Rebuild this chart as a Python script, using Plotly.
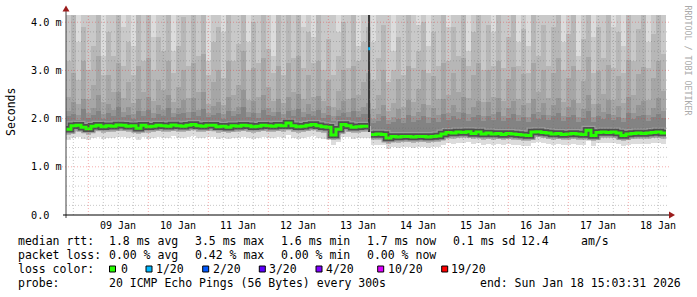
import numpy as np
import pandas as pd
import plotly.graph_objects as go

# ---------------- data ----------------
START = "2026-01-08 15:03:31"
END = "2026-01-18 15:03:31"
BIN_HOURS = 2

median_ms = [
    1.78, 1.85, 1.86, 1.82, 1.79, 1.84, 1.86, 1.83, 1.85, 1.84, 1.87, 1.86,
    1.84, 1.85, 1.80, 1.86, 1.83, 1.84, 1.86, 1.85, 1.84, 1.87, 1.85, 1.84,
    1.86, 1.88, 1.85, 1.84, 1.86, 1.86, 1.83, 1.84, 1.82, 1.85, 1.84, 1.86,
    1.85, 1.83, 1.84, 1.86, 1.85, 1.84, 1.86, 1.85, 1.91, 1.85, 1.83, 1.84,
    1.86, 1.88, 1.85, 1.83, 1.82, 1.66, 1.78, 1.88, 1.85, 1.82, 1.83, 1.84,
    1.84, 1.67, 1.68, 1.67, 1.60, 1.63, 1.62, 1.63, 1.63, 1.62, 1.63, 1.63,
    1.62, 1.63, 1.64, 1.68, 1.71, 1.70, 1.72, 1.71, 1.73, 1.69, 1.72, 1.68,
    1.70, 1.68, 1.69, 1.67, 1.69, 1.68, 1.67, 1.66, 1.65, 1.72, 1.73, 1.71,
    1.70, 1.68, 1.69, 1.67, 1.68, 1.69, 1.68, 1.67, 1.76, 1.65, 1.71, 1.72,
    1.71, 1.72, 1.70, 1.65, 1.68, 1.69, 1.70, 1.69, 1.70, 1.71, 1.72, 1.70,
]
lo_ms = [
    1.55, 1.60, 1.61, 1.57, 1.55, 1.60, 1.62, 1.58, 1.60, 1.59, 1.62, 1.61,
    1.60, 1.61, 1.55, 1.62, 1.58, 1.59, 1.62, 1.60, 1.60, 1.63, 1.60, 1.59,
    1.62, 1.63, 1.60, 1.59, 1.61, 1.62, 1.58, 1.60, 1.57, 1.60, 1.60, 1.62,
    1.60, 1.58, 1.60, 1.61, 1.60, 1.59, 1.62, 1.60, 1.65, 1.60, 1.58, 1.60,
    1.62, 1.63, 1.60, 1.58, 1.57, 1.45, 1.52, 1.62, 1.61, 1.57, 1.59, 1.60,
    1.60, 1.45, 1.46, 1.45, 1.37, 1.41, 1.40, 1.41, 1.41, 1.40, 1.41, 1.41,
    1.40, 1.41, 1.42, 1.46, 1.49, 1.48, 1.50, 1.49, 1.51, 1.47, 1.50, 1.46,
    1.48, 1.46, 1.47, 1.45, 1.47, 1.46, 1.45, 1.44, 1.43, 1.50, 1.51, 1.49,
    1.48, 1.46, 1.47, 1.45, 1.46, 1.47, 1.46, 1.45, 1.53, 1.43, 1.49, 1.50,
    1.49, 1.50, 1.48, 1.43, 1.46, 1.47, 1.48, 1.47, 1.48, 1.49, 1.50, 1.48,
]
lo_mid_ms = [
    1.67, 1.73, 1.74, 1.70, 1.67, 1.72, 1.74, 1.71, 1.73, 1.72, 1.75, 1.74,
    1.72, 1.73, 1.68, 1.74, 1.71, 1.72, 1.74, 1.73, 1.72, 1.75, 1.73, 1.72,
    1.74, 1.76, 1.73, 1.72, 1.74, 1.74, 1.71, 1.72, 1.70, 1.73, 1.72, 1.74,
    1.73, 1.71, 1.72, 1.74, 1.73, 1.72, 1.74, 1.73, 1.79, 1.73, 1.71, 1.72,
    1.74, 1.76, 1.73, 1.71, 1.70, 1.55, 1.66, 1.76, 1.73, 1.70, 1.71, 1.72,
    1.72, 1.55, 1.56, 1.55, 1.48, 1.51, 1.50, 1.51, 1.51, 1.50, 1.51, 1.51,
    1.50, 1.51, 1.52, 1.56, 1.59, 1.58, 1.60, 1.59, 1.61, 1.57, 1.60, 1.56,
    1.58, 1.56, 1.57, 1.55, 1.57, 1.56, 1.55, 1.54, 1.53, 1.60, 1.61, 1.59,
    1.58, 1.56, 1.57, 1.55, 1.56, 1.57, 1.56, 1.55, 1.64, 1.53, 1.59, 1.60,
    1.59, 1.60, 1.58, 1.53, 1.56, 1.57, 1.58, 1.57, 1.58, 1.59, 1.60, 1.58,
]
p15_ms = [
    2.05, 2.10, 1.98, 2.20, 2.02, 2.08, 2.15, 2.00, 2.12, 2.05, 2.25, 2.03,
    2.08, 2.00, 2.15, 2.05, 2.18, 2.02, 2.10, 2.06, 2.22, 2.04, 2.09, 2.12,
    2.02, 2.14, 2.06, 2.20, 2.03, 2.08, 2.11, 2.00, 2.16, 2.05, 2.09, 2.24,
    2.04, 2.12, 2.02, 2.18, 2.07, 2.05, 2.13, 2.01, 2.15, 2.06, 2.20, 2.03,
    2.10, 2.05, 2.17, 2.02, 2.08, 1.95, 2.06, 2.12, 2.03, 2.15, 2.04, 2.09,
    2.10, 1.90, 1.95, 2.05, 1.88, 1.92, 2.00, 1.90, 2.08, 1.93, 1.97, 2.05,
    1.91, 2.02, 1.94, 2.10, 1.97, 2.05, 1.99, 2.12, 1.96, 2.03, 2.08, 1.95,
    2.06, 1.98, 2.13, 1.95, 2.02, 2.09, 1.96, 2.04, 1.93, 2.10, 2.00, 2.07,
    1.97, 2.05, 2.11, 1.96, 2.03, 2.08, 1.94, 2.02, 2.15, 1.93, 2.06, 2.00,
    2.09, 1.97, 2.04, 1.92, 2.11, 1.99, 2.05, 2.08, 1.96, 2.03, 2.10, 2.01,
]
p16_ms = [
    2.15, 2.35, 2.08, 2.40, 2.12, 2.22, 2.50, 2.10, 2.30, 2.18, 2.55, 2.14,
    2.25, 2.10, 2.40, 2.16, 2.45, 2.12, 2.28, 2.18, 2.50, 2.12, 2.22, 2.38,
    2.14, 2.42, 2.18, 2.55, 2.12, 2.26, 2.34, 2.10, 2.44, 2.16, 2.24, 2.60,
    2.14, 2.36, 2.12, 2.48, 2.22, 2.14, 2.40, 2.10, 2.44, 2.18, 2.52, 2.13,
    2.30, 2.16, 2.46, 2.12, 2.26, 2.05, 2.18, 2.36, 2.13, 2.42, 2.16, 2.25,
    2.32, 2.00, 2.10, 2.28, 1.98, 2.04, 2.20, 2.02, 2.38, 2.06, 2.14, 2.30,
    2.03, 2.22, 2.08, 2.40, 2.12, 2.28, 2.14, 2.44, 2.10, 2.24, 2.36, 2.06,
    2.34, 2.10, 2.42, 2.06, 2.22, 2.36, 2.08, 2.28, 2.04, 2.40, 2.14, 2.32,
    2.08, 2.28, 2.42, 2.06, 2.24, 2.38, 2.04, 2.20, 2.50, 2.03, 2.30, 2.14,
    2.38, 2.08, 2.26, 2.02, 2.44, 2.12, 2.28, 2.36, 2.08, 2.22, 2.42, 2.16,
]
p17_ms = [
    2.45, 2.95, 2.30, 3.20, 2.40, 2.70, 3.30, 2.35, 2.90, 2.55, 3.15, 2.42,
    2.75, 2.32, 3.10, 2.55, 3.25, 2.36, 2.80, 2.60, 3.20, 2.34, 2.65, 3.00,
    2.42, 3.15, 2.55, 3.35, 2.30, 2.75, 3.00, 2.28, 3.20, 2.50, 2.70, 3.40,
    2.38, 3.05, 2.45, 3.25, 2.65, 2.36, 3.10, 2.32, 3.15, 2.55, 3.30, 2.40,
    2.90, 2.45, 3.20, 2.36, 2.80, 2.25, 2.58, 3.00, 2.40, 3.10, 2.50, 2.75,
    2.95, 2.20, 2.50, 3.00, 2.15, 2.32, 2.82, 2.25, 3.10, 2.35, 2.62, 3.00,
    2.28, 2.88, 2.40, 3.15, 2.48, 2.95, 2.55, 3.25, 2.42, 2.90, 3.15, 2.35,
    3.00, 2.44, 3.20, 2.36, 2.82, 3.08, 2.40, 2.92, 2.32, 3.15, 2.55, 3.00,
    2.42, 2.95, 3.25, 2.35, 2.85, 3.10, 2.33, 2.78, 3.28, 2.30, 2.98, 2.52,
    3.12, 2.38, 2.88, 2.32, 3.22, 2.48, 2.92, 3.08, 2.38, 2.85, 3.20, 2.58,
]
p18_ms = [
    3.20, 4.50, 2.80, 3.90, 3.00, 3.50, 4.50, 2.90, 3.80, 3.30, 4.50, 3.10,
    3.60, 2.90, 4.50, 3.20, 4.20, 3.00, 3.70, 3.40, 4.50, 2.95, 3.50, 4.10,
    3.10, 4.50, 3.30, 4.40, 2.90, 3.60, 3.90, 2.85, 4.50, 3.20, 3.55, 4.50,
    3.00, 4.00, 3.15, 4.50, 3.45, 2.95, 4.30, 2.90, 4.50, 3.25, 4.50, 3.05,
    3.80, 3.15, 4.50, 3.00, 3.65, 2.90, 3.30, 4.00, 3.05, 4.50, 3.20, 3.60,
    3.90, 2.80, 3.25, 3.95, 2.75, 3.00, 3.70, 2.90, 4.50, 3.05, 3.40, 4.00,
    2.95, 3.80, 3.10, 4.50, 3.20, 3.90, 3.30, 4.50, 3.10, 3.80, 4.50, 3.00,
    3.95, 3.10, 4.50, 3.05, 3.70, 4.50, 3.10, 3.85, 2.95, 4.50, 3.30, 3.95,
    3.10, 3.90, 4.50, 3.00, 3.75, 4.50, 3.00, 3.65, 4.50, 2.95, 3.90, 3.25,
    4.50, 3.05, 3.80, 2.95, 4.50, 3.20, 3.85, 4.50, 3.05, 3.75, 4.50, 3.35,
]
p19_ms = [
    4.5, 4.5, 3.60, 4.5, 4.5, 4.5, 4.5, 3.30, 4.5, 4.5, 4.5, 3.90,
    4.5, 3.50, 4.5, 4.5, 4.5, 3.70, 4.5, 4.5, 4.5, 3.40, 4.5, 4.5,
    4.5, 4.5, 4.5, 4.5, 3.20, 4.5, 4.5, 3.80, 4.5, 4.5, 4.5, 4.5,
    3.60, 4.5, 4.5, 4.5, 4.5, 3.30, 4.5, 4.5, 4.5, 4.5, 4.5, 3.90,
    4.5, 3.70, 4.5, 4.5, 4.5, 4.5, 3.80, 4.5, 4.5, 4.5, 3.50, 4.5,
    4.5, 3.60, 4.5, 4.5, 4.5, 3.40, 4.5, 4.5, 4.5, 4.5, 3.95, 4.5,
    3.50, 4.5, 4.5, 4.5, 3.90, 4.5, 4.5, 4.5, 3.40, 4.5, 4.5, 4.5,
    4.5, 3.80, 4.5, 4.5, 4.5, 4.5, 3.60, 4.5, 3.50, 4.5, 4.5, 4.5,
    4.5, 4.5, 4.5, 3.60, 4.5, 4.5, 3.30, 4.5, 4.5, 3.70, 4.5, 4.5,
    4.5, 3.90, 4.5, 3.50, 4.5, 4.5, 4.5, 4.5, 3.60, 4.5, 4.5, 4.5,
]
MAX_PING_MS = 4.5  # slowest pings are above the graph top

spike_time = "2026-01-13 16:20"
spike_minutes = 45
spike_low_ms = 1.72
spike_high_ms = 4.5
spike_median_ms = 3.45

y_tick_vals = [0, 1, 2, 3, 4]
y_tick_text = ["0.0", "1.0 m", "2.0 m", "3.0 m", "4.0 m"]
x_tick_dates = ["2026-01-%02d 12:00" % d for d in range(9, 19)]
x_tick_text = ["%02d Jan" % d for d in range(9, 19)]

loss_colors = ["#26ff00", "#00b8ff", "#0059ff", "#5e00ff", "#7e00ff", "#dd00ff", "#ff0000"]
loss_labels = ["0", "1/20", "2/20", "3/20", "4/20", "10/20", "19/20"]

rtt_row = ["median rtt:", "1.8 ms avg", "3.5 ms max", "1.6 ms min", "1.7 ms now", "0.1 ms sd", "12.4", "am/s"]
loss_row = ["packet loss:", "0.00 % avg", "0.42 % max", "0.00 % min", "0.00 % now"]
probe_row = ["probe:", "20 ICMP Echo Pings (56 Bytes) every 300s", "end: Sun Jan 18 15:03:31 2026"]

# ---------------- layout geometry ----------------
W, H = 697, 297
L, R, T, B = 66, 31, 15, 82
PW, PH = W - L - R, H - T - B
Y_TOP = 4.15
MONO = "DejaVu Sans Mono"


def px(x):
    return (x - L) / PW


def py(y):
    return (T + PH - y) / PH


n = len(median_ms)
starts = pd.date_range(START, periods=n, freq=f"{BIN_HOURS}h")
centers = starts + pd.Timedelta(hours=BIN_HOURS / 2)
bar_w = BIN_HOURS * 3600 * 1000

fig = go.Figure()


def band(lower, upper, color):
    lower = np.asarray(lower, float)
    upper = np.broadcast_to(np.asarray(upper, float), lower.shape)
    fig.add_trace(go.Bar(x=centers, y=upper - lower, base=lower, width=bar_w,
                         marker=dict(color=color, line=dict(width=0)),
                         hoverinfo="skip", showlegend=False))


med = np.asarray(median_ms, float)
band(lo_ms, MAX_PING_MS, "#dcdcdc")
band(med, p19_ms, "#c9c9c9")
band(med, p18_ms, "#b7b7b7")
band(med, p17_ms, "#a6a6a6")
band(med, p16_ms, "#959595")
band(med, p15_ms, "#838383")
band(lo_mid_ms, med, "#b2b2b2")

# spike column
sp_t = pd.Timestamp(spike_time)
sp_w = spike_minutes * 60 * 1000
fig.add_trace(go.Bar(x=[sp_t], y=[spike_high_ms - spike_low_ms], base=[spike_low_ms], width=sp_w,
                     marker=dict(color="#383838", line=dict(width=0)),
                     hoverinfo="skip", showlegend=False))

# median line (split around the spike)
sp_start = sp_t - pd.Timedelta(minutes=spike_minutes / 2)
sp_end = sp_t + pd.Timedelta(minutes=spike_minutes / 2)
cut = int(np.searchsorted(starts, sp_t)) - 1
end_t = pd.Timestamp(END)
lx = list(starts[:cut + 1]) + [sp_start, None] + list(starts[cut + 1:]) + [end_t]
ly = list(med[:cut + 1]) + [med[cut], None] + list(med[cut + 1:]) + [med[-1]]
for wdt, col in [(9, "#9c9c9c"), (6.5, "#505050"), (3, "#26ff00")]:
    fig.add_trace(go.Scatter(x=lx, y=ly, mode="lines", line=dict(color=col, width=wdt, shape="hv"),
                             connectgaps=False, hoverinfo="skip", showlegend=False))
fig.add_trace(go.Scatter(x=[sp_start, sp_end], y=[spike_median_ms, spike_median_ms], mode="lines",
                         line=dict(color=loss_colors[1], width=3), hoverinfo="skip", showlegend=False))

shapes = []
# horizontal grid
for k in range(1, 21):
    v = round(k * 0.2, 1)
    major = abs(v - round(v)) < 1e-9
    shapes.append(dict(type="line", xref="paper", yref="paper",
                       x0=px(L - 4) if major else 0, x1=px(L + PW + 3),
                       y0=v / Y_TOP, y1=v / Y_TOP, layer="above",
                       line=dict(color="rgba(230,60,60,0.42)" if major else "rgba(110,110,110,0.38)",
                                 width=1, dash="1px,2px")))
# vertical grid
for t in pd.date_range("2026-01-08 18:00", "2026-01-18 12:00", freq="6h"):
    major = t.hour == 0
    shapes.append(dict(type="line", xref="x", yref="paper", x0=t, x1=t, y0=0, y1=1, layer="above",
                       line=dict(color="rgba(230,60,60,0.42)" if major else "rgba(110,110,110,0.38)",
                                 width=1, dash="1px,2px")))
# axes
shapes.append(dict(type="line", xref="paper", yref="paper", x0=0, x1=0, y0=py(218), y1=py(11),
                   layer="above", line=dict(color="#404040", width=1)))
shapes.append(dict(type="line", xref="paper", yref="paper", x0=px(63), x1=px(670), y0=0, y1=0,
                   layer="above", line=dict(color="#000000", width=1)))
# arrows
shapes.append(dict(type="path", xref="paper", yref="paper", layer="above",
                   path=f"M {px(66)} {py(5.5)} L {px(62.5)} {py(11.5)} L {px(69.5)} {py(11.5)} Z",
                   fillcolor="#9b1c1c", line=dict(width=0)))
shapes.append(dict(type="path", xref="paper", yref="paper", layer="above",
                   path=f"M {px(675)} {py(215)} L {px(669)} {py(211.5)} L {px(669)} {py(218.5)} Z",
                   fillcolor="#9b1c1c", line=dict(width=0)))
# loss colour boxes
box_left = [109.5, 146, 202.7, 259.3, 316, 377.7, 441.7]
label_left = [119.3, 154.3, 211, 267.3, 324.3, 386, 449.3]
for bx, c in zip(box_left, loss_colors):
    shapes.append(dict(type="rect", xref="paper", yref="paper", x0=px(bx), x1=px(bx + 6),
                       y0=py(272), y1=py(266), fillcolor=c, line=dict(color="#000000", width=1)))

ann = []
for v, txt in zip(y_tick_vals, y_tick_text):
    ann.append(dict(x=px(29), xref="paper", y=v, yref="y", text=txt, showarrow=False,
                    xanchor="left", yanchor="middle", font=dict(family=MONO, size=10.2, color="#000")))
for d, txt in zip(x_tick_dates, x_tick_text):
    ann.append(dict(x=d, xref="x", y=py(225), yref="paper", text=txt, showarrow=False,
                    xanchor="center", yanchor="middle", font=dict(family=MONO, size=10, color="#000")))
ann.append(dict(x=px(10.5), xref="paper", y=py(112.5), yref="paper", text="Seconds", textangle=-90,
                showarrow=False, xanchor="center", yanchor="middle",
                font=dict(family=MONO, size=11.5, color="#000")))
ann.append(dict(x=px(687.5), xref="paper", y=py(60), yref="paper", text="RRDTOOL / TOBI OETIKER",
                textangle=90, showarrow=False, xanchor="center", yanchor="middle",
                font=dict(family=MONO, size=8.3, color="#aaaaaa")))


def row(texts, xs, ypx):
    for t, x in zip(texts, xs):
        ann.append(dict(x=px(x), xref="paper", y=py(ypx), yref="paper", text=t, showarrow=False,
                        xanchor="left", yanchor="middle", font=dict(family=MONO, size=11.5, color="#000")))


row(rtt_row, [15.5, 106.6, 192.6, 278.6, 365, 451, 519.3, 578.6], 241)
row(loss_row, [15.5, 106.6, 192.6, 278.6, 365], 255)
row(["loss color:"], [15.5], 269)
row(loss_labels, label_left, 269)
row(probe_row, [15.5, 106.6, 477.6], 283)

fig.update_layout(
    width=W, height=H, margin=dict(l=L, r=R, t=T, b=B, pad=0),
    paper_bgcolor="#ffffff", plot_bgcolor="#ffffff",
    barmode="overlay", bargap=0, showlegend=False,
    xaxis=dict(type="date", range=[START, END], showgrid=False, zeroline=False,
               showticklabels=False, ticks="", showline=False, fixedrange=True),
    yaxis=dict(range=[0, Y_TOP], showgrid=False, zeroline=False, showticklabels=False,
               ticks="", showline=False, fixedrange=True),
    shapes=shapes, annotations=ann,
)
fig.write_html("out.html", config=dict(displayModeBar=False))
